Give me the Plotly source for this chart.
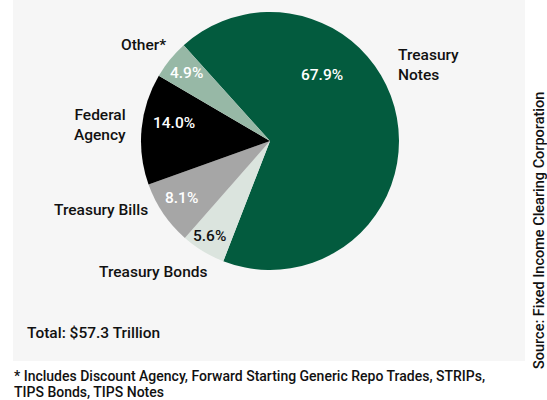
import plotly.graph_objects as go

# Repo collateral composition (share of total, %)
categories = ["Treasury Notes", "Treasury Bonds", "Treasury Bills", "Federal Agency", "Other*"]
shares = [67.9, 5.6, 8.1, 14.0, 4.9]
slice_colors = ["#035b3e", "#dbe4de", "#a6a6a6", "#000000", "#97b8a6"]
pct_colors = ["#ffffff", "#111111", "#ffffff", "#ffffff", "#ffffff"]

total_note = "Total: $57.3 Trillion"
footnote = ["* Includes Discount Agency, Forward Starting Generic Repo Trades, STRIPs,",
            "TIPS Bonds, TIPS Notes"]
source = "Source: Fixed Income Clearing Corporation"

W, H = 547, 400
FONT = "Roboto, Liberation Sans, sans-serif"
FS = 15.5
WEIGHT = 500

# pie centre / radius in pixels
cx, cy, r = 270, 141, 129

# label placement (pixels): category names and percentage texts
name_pos = [(396, 65, "left", "Treasury<br>Notes"),
            (153, 272, "center", "Treasury Bonds"),
            (150, 210, "right", "Treasury Bills"),
            (128, 125, "right", "Federal<br>Agency"),
            (168, 45, "right", "Other*")]
pct_pos = [(322, 75), (209, 236), (181, 198), (174, 123), (186, 73)]


def px(x):
    return x / W


def py(y):
    return 1 - y / H


def font(size=FS, color="#111111"):
    return dict(family=FONT, size=size, color=color, weight=WEIGHT)


fig = go.Figure(go.Pie(
    labels=categories,
    values=shares,
    sort=False,
    direction="clockwise",
    rotation=-42,
    marker=dict(colors=slice_colors, line=dict(width=0)),
    textinfo="none",
    hoverinfo="label+value",
    showlegend=False,
    domain=dict(x=[px(cx - r), px(cx + r)], y=[py(cy + r), py(cy - r)]),
))

annotations = []
for (x, y, al, txt) in name_pos:
    annotations.append(dict(
        x=px(x), y=py(y), xref="paper", yref="paper", text=txt, showarrow=False,
        xanchor=al, yanchor="middle", align=al, font=font()))

for (x, y), v, c in zip(pct_pos, shares, pct_colors):
    annotations.append(dict(
        x=px(x), y=py(y), xref="paper", yref="paper", text=f"{v:.1f}%", showarrow=False,
        xanchor="center", yanchor="middle", font=font(color=c)))

annotations.append(dict(
    x=px(25), y=py(333), xref="paper", yref="paper", text=total_note, showarrow=False,
    xanchor="left", yanchor="middle", font=font()))

for i, line in enumerate(footnote):
    annotations.append(dict(
        x=px(12), y=py(376 + 16 * i), xref="paper", yref="paper", text=line, showarrow=False,
        xanchor="left", yanchor="middle", font=font(14)))

annotations.append(dict(
    x=px(539), y=py(231), xref="paper", yref="paper", text=source, showarrow=False,
    textangle=-90, xanchor="center", yanchor="middle", font=font(14.5)))

fig.update_layout(
    width=W, height=H,
    margin=dict(l=0, r=0, t=0, b=0),
    paper_bgcolor="#ffffff",
    plot_bgcolor="#ffffff",
    shapes=[dict(type="rect", xref="paper", yref="paper",
                 x0=px(13), x1=px(525), y0=py(361), y1=py(0),
                 fillcolor="#f6f6f6", line=dict(width=0), layer="below")],
    annotations=annotations,
)

fig.write_html("out.html")
